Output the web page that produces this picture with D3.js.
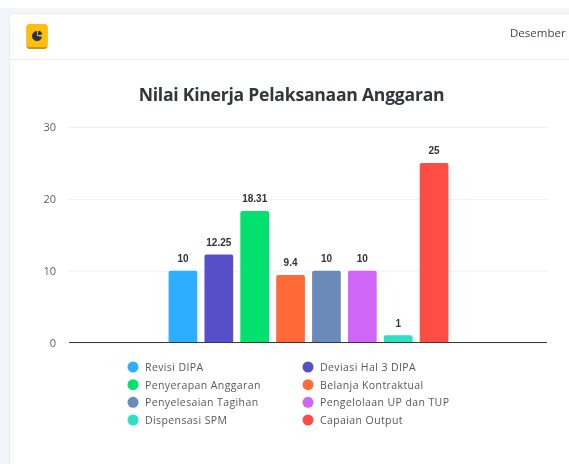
<!DOCTYPE html>
<html>
<head>
<meta charset="utf-8">
<script src="https://cdn.jsdelivr.net/npm/d3@7"></script>
<style>
  html, body { margin: 0; padding: 0; background: #fff; overflow: hidden; }
  svg { display: block; font-family: "Open Sans", sans-serif; filter: blur(0.5px); }
</style>
</head>
<body>
<div id="chart"></div>
<script>
const width = 569;
const height = 464;

const categories = ["Revisi DIPA", "Deviasi Hal 3 DIPA", "Penyerapan Anggaran", "Belanja Kontraktual",
    "Penyelesaian Tagihan", "Pengelolaan UP dan TUP", "Dispensasi SPM", "Capaian Output"];
const values = [10, 12.25, 18.31, 9.4, 10, 10, 1, 25];
const colors = ["#2eaeff", "#5650c8", "#02e06f", "#ff6a38", "#6a8ab9", "#d066f8", "#2be0c4", "#ff4c44"];
const yTicks = [0, 10, 20, 30];

var svg = d3.select("#chart").append("svg")
    .attr("width", width)
    .attr("height", height);

// page and card
svg.append("rect").attr("width", width).attr("height", height).attr("fill", "#ffffff");
svg.append("rect").attr("y", 8).attr("width", width).attr("height", height).attr("fill", "#f4f5fa");
svg.append("rect")
    .attr("x", 9.5).attr("y", 13.5)
    .attr("width", 600).attr("height", 500)
    .attr("rx", 3)
    .attr("fill", "#fff")
    .attr("stroke", "#e9e9ef");
svg.append("line")
    .attr("x1", 10).attr("x2", width)
    .attr("y1", 59.5).attr("y2", 59.5)
    .attr("stroke", "#ececf0");

// header icon
var icon = svg.append("g").attr("transform", "translate(37,36)");
icon.append("rect").attr("x", -10.5).attr("y", -11).attr("width", 21).attr("height", 24)
    .attr("rx", 3).attr("fill", "#c99a10");
icon.append("rect").attr("x", -10.5).attr("y", -12).attr("width", 21).attr("height", 23)
    .attr("rx", 3).attr("fill", "#ffbe0b");
icon.append("path")
    .attr("d", d3.arc()({innerRadius: 0, outerRadius: 5, startAngle: 1.7, endAngle: 6.28}))
    .attr("fill", "#26324a");
icon.append("path")
    .attr("d", d3.arc()({innerRadius: 0, outerRadius: 4.5, startAngle: 0.1, endAngle: 1.4}))
    .attr("transform", "translate(0.8,-0.8)")
    .attr("fill", "#26324a");

svg.append("text")
    .attr("x", 510).attr("y", 37)
    .attr("font-size", 11.5)
    .attr("fill", "#3f4450")
    .text("Desember");

svg.append("text")
    .attr("x", 291.5).attr("y", 100.5)
    .attr("text-anchor", "middle")
    .attr("font-size", 17.6)
    .attr("font-weight", 700)
    .attr("letter-spacing", -0.25)
    .attr("fill", "#33363d")
    .text("Nilai Kinerja Pelaksanaan Anggaran");

// scales
const x = d3.scaleBand()
    .domain(categories)
    .range([165, 452])
    .paddingInner(0.2)
    .paddingOuter(0.1);

const y = d3.scaleLinear()
    .domain([0, 30])
    .range([342.5, 127]);

// y axis with gridlines
var yAxis = svg.append("g")
    .attr("transform", "translate(69,0)")
    .call(d3.axisLeft(y).tickValues(yTicks).tickSize(-478).tickPadding(13));
yAxis.select(".domain").remove();
yAxis.selectAll("line").attr("stroke", "#f0f0f2");
yAxis.selectAll("text")
    .attr("font-family", "'Open Sans', sans-serif")
    .attr("font-size", 11)
    .attr("fill", "#5c5f66");

// bars
svg.append("g").selectAll("path")
    .data(categories)
    .join("path")
        .attr("fill", (d, i) => colors[i])
        .attr("d", (d, i) => {
            const x0 = x(d), w = x.bandwidth(), top = y(values[i]), r = 2;
            return `M${x0},${y(0)}V${top + r}Q${x0},${top} ${x0 + r},${top}H${x0 + w - r}Q${x0 + w},${top} ${x0 + w},${top + r}V${y(0)}Z`;
        });

// baseline, on top of the bars
svg.append("line")
    .attr("x1", 69).attr("x2", 547)
    .attr("y1", y(0)).attr("y2", y(0))
    .attr("stroke", "#3a3a3a")
    .attr("stroke-width", 1);

// value labels
svg.append("g").selectAll("text")
    .data(categories)
    .join("text")
        .attr("x", d => x(d) + x.bandwidth() / 2)
        .attr("y", (d, i) => y(values[i]) - 8.5)
        .attr("text-anchor", "middle")
        .attr("font-family", "'Liberation Sans', sans-serif")
        .attr("font-size", 10)
        .attr("font-weight", 700)
        .attr("fill", "#30333a")
        .text((d, i) => values[i]);

// legend, two columns filled row by row
const legendX = d3.scalePoint().domain([0, 1]).range([133, 308]);
const legendY = d3.scalePoint().domain([0, 1, 2, 3]).range([367, 420]);

var legend = svg.append("g").selectAll("g")
    .data(categories)
    .join("g")
        .attr("transform", (d, i) => `translate(${legendX(i % 2)},${legendY(Math.floor(i / 2))})`);

legend.append("circle")
    .attr("r", 5.5)
    .attr("fill", (d, i) => colors[i]);

legend.append("text")
    .attr("x", 12)
    .attr("y", 4)
    .attr("font-size", 10.5)
    .attr("letter-spacing", 0.4)
    .attr("fill", "#55585f")
    .text(d => d);
</script>
</body>
</html>
